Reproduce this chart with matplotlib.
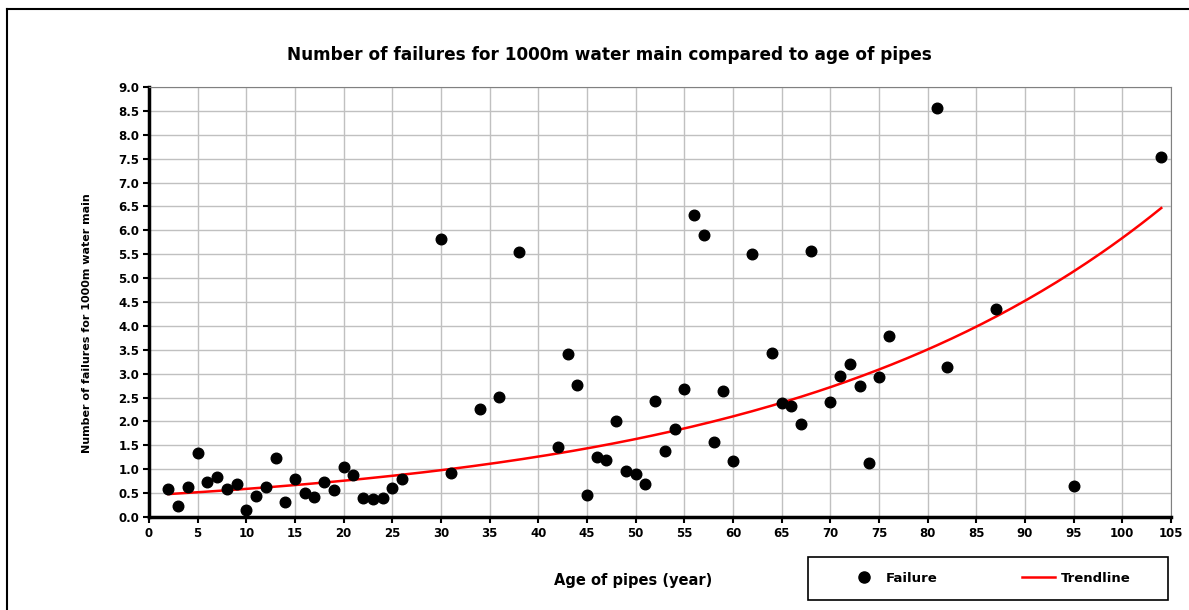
import numpy as np
import matplotlib
matplotlib.use("Agg")
import matplotlib.pyplot as plt
from matplotlib.lines import Line2D
from matplotlib.patches import Rectangle

plt.rcParams['font.family'] = ['DejaVu Sans']

# pipe age (years) and failures per 1000 m of main
age = [2, 3, 4, 5, 6, 7, 8, 9, 10, 11, 12, 13, 14, 15, 16, 17, 18, 19, 20,
       21, 22, 23, 24, 25, 26, 30, 31, 34, 36, 38, 42, 43, 44, 45, 46, 47,
       48, 49, 50, 51, 52, 53, 54, 55, 56, 57, 58, 59, 60, 62, 64, 65, 66,
       67, 68, 70, 71, 72, 73, 74, 75, 76, 81, 82, 87, 95, 104]
failures = [0.58, 0.23, 0.62, 1.35, 0.74, 0.83, 0.58, 0.70, 0.15, 0.45,
            0.62, 1.24, 0.31, 0.80, 0.50, 0.42, 0.74, 0.56, 1.05, 0.87,
            0.40, 0.37, 0.40, 0.60, 0.80, 5.82, 0.93, 2.27, 2.52, 5.55,
            1.46, 3.42, 2.76, 0.47, 1.26, 1.19, 2.01, 0.96, 0.91, 0.69,
            2.43, 1.39, 1.84, 2.67, 6.32, 5.91, 1.56, 2.63, 1.17, 5.50,
            3.44, 2.39, 2.33, 1.94, 5.57, 2.41, 2.95, 3.21, 2.74, 1.14,
            2.93, 3.78, 8.55, 3.15, 4.35, 0.65, 7.53]

# exponential trendline y = a*exp(b*x)
trend_a = 0.456
trend_b = 0.0255

W, H = 1189, 610
fig = plt.figure(figsize=(W / 100, H / 100), dpi=100)
ax = fig.add_axes([149 / W, 1 - 517 / H, (1171 - 149) / W, (517 - 87) / H])

ax.scatter(age, failures, s=58, color='black', zorder=3, label='Failure')
tx = np.linspace(min(age), max(age), 200)
ax.plot(tx, trend_a * np.exp(trend_b * tx), color='red', lw=1.8,
        zorder=2, label='Trendline')

ax.set_xlim(0, 105)
ax.set_ylim(0, 9)
ax.set_xticks(np.arange(0, 106, 5))
ax.set_yticks(np.arange(0, 9.01, 0.5))
ax.set_yticklabels(['%.1f' % v for v in np.arange(0, 9.01, 0.5)])
ax.tick_params(labelsize=8.5, length=4, width=1.5, direction='out',
               pad=3)
for lab in ax.get_xticklabels() + ax.get_yticklabels():
    lab.set_fontweight('bold')
ax.grid(True, color='#c0c0c0', lw=1)
ax.set_axisbelow(True)
ax.spines['left'].set_linewidth(2.5)
ax.spines['bottom'].set_linewidth(2.5)
ax.spines['top'].set_color('#808080')
ax.spines['right'].set_color('#808080')

fig.text(609 / W, 1 - 55 / H,
         'Number of failures for 1000m water main compared to age of pipes',
         ha='center', va='center', fontsize=12.2, fontweight='bold')
fig.text(633 / W, 1 - 580 / H, 'Age of pipes (year)', ha='center',
         va='center', fontsize=10.5, fontweight='bold')
fig.text(87 / W, 1 - 323 / H, 'Number of failures for 1000m water main',
         ha='center', va='center', rotation=90, fontsize=8,
         fontweight='bold')

# outer chart frame (only top and left edges visible)
fig.add_artist(Line2D([7 / W, 7 / W], [0, 1 - 9 / H], color='black',
                      lw=1.5, transform=fig.transFigure))
fig.add_artist(Line2D([7 / W, 1], [1 - 9 / H, 1 - 9 / H], color='black',
                      lw=1.5, transform=fig.transFigure))

# legend box
fig.add_artist(Rectangle((808 / W, 1 - 600 / H), 360 / W, 43 / H,
                         transform=fig.transFigure, fill=False,
                         edgecolor='black', lw=1.2))
handles = [Line2D([], [], marker='o', ls='none', color='black',
                  markersize=8),
           Line2D([], [], color='red', lw=1.8)]
fig.legend(handles, ['Failure', 'Trendline'], ncol=2, loc='center',
           bbox_to_anchor=(989 / W, 1 - 578 / H), frameon=False,
           prop={'weight': 'bold', 'size': 9.5}, handlelength=2.5,
           handletextpad=0.4, columnspacing=6.4)

fig.savefig('out.png', dpi=100)
